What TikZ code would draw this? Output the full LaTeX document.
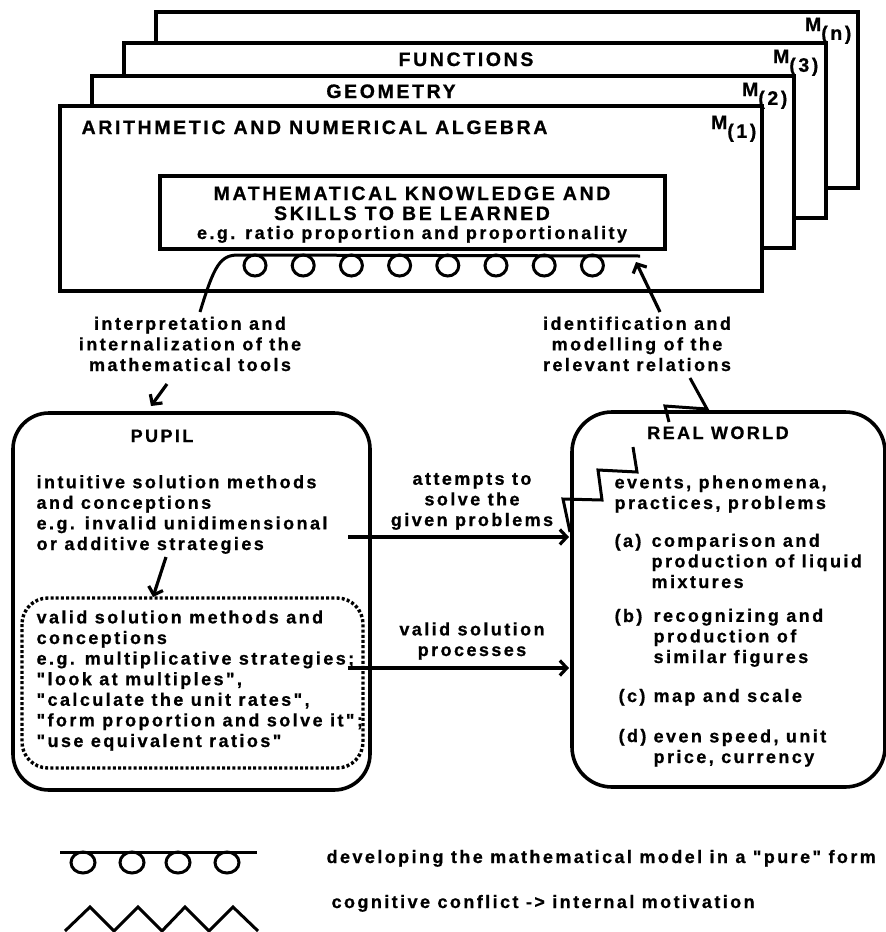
\documentclass[tikz,border=0pt]{standalone}
\usepackage{fontspec}
\newfontfamily\dgfont{Liberation Sans Bold}[LetterSpace=13.5, FakeBold=0.8]
\usetikzlibrary{arrows.meta,positioning}
\tikzset{
  every picture/.style={line width=3.2pt},
  sSheet/.style={draw, fill=white, line width=3.6pt},
  sInner/.style={draw, line width=3.4pt},
  sRound/.style={draw, line width=3.6pt, rounded corners=36pt},
  sDots/.style={draw, line width=3.4pt, rounded corners=26pt, dash pattern=on 3pt off 2.2pt},
  sArr/.style={-{Straight Barb[length=7pt,width=15pt]}, line width=3.2pt},
  sLine/.style={line width=3pt},
  sTxt/.style={font=\dgfont\fontsize{18}{20.6}\selectfont, inner sep=0pt, align=left},
  sBig/.style={sTxt, font=\dgfont\fontsize{19.5}{20}\selectfont},
  sCap/.style={sTxt, align=center},
  sMark/.style={sBig, anchor=base east},
}
\newcommand{\msub}[1]{M\raisebox{-0.45em}{(#1)}}

\begin{document}
\begin{tikzpicture}[x=1pt,y=-1pt]
  \useasboundingbox (0,0) rectangle (886,932);
  % topic sheets, back to front
  \draw[sSheet] (156,12) rectangle (858,188);
  \node[sMark] (mN) at (853,31) {\msub{n}};
  \draw[sSheet] (124,43) rectangle (826,218);
  \node[sMark] (m3) at (820,63) {\msub{3}};
  \node[sBig, anchor=base] (fun) at (466,66) {FUNCTIONS};
  \draw[sSheet] (92,76) rectangle (794,248);
  \node[sMark] (m2) at (789,96) {\msub{2}};
  \node[sBig, anchor=base] (geo) at (391,98) {GEOMETRY};
  \draw[sSheet] (60,106) rectangle (762,291);
  \node[sMark] (m1) at (758,129) {\msub{1}};
  \node[sBig, anchor=base west] (arith) at (80,134) {ARITHMETIC AND NUMERICAL ALGEBRA};
  \draw[sInner] (160,176) rectangle (665,249);
  \node[sBig, align=center, anchor=base] (know) at (412,220)
    {MATHEMATICAL KNOWLEDGE AND\\SKILLS TO BE LEARNED};
  \node[sTxt, anchor=base] (eg) at (412,239) {e.g. ratio proportion and proportionality};

  % coil: model in pure form
  \coordinate (cL) at (200,312);
  \coordinate (cR) at (640,256);
  \draw[sLine] (cL) .. controls (214,266) and (220,255) .. (238,255) -- (cR);
  \foreach \i in {0,...,7}
    \draw[sLine] ({255+48.2*\i},265.5) ellipse [x radius=11pt, y radius=10.5pt];
  \coordinate (idB) at (660,312);
  \coordinate (idT) at (636,262);
  \draw[sArr] (idB) -- (idT);

  % labels of the two links
  \node[sCap, anchor=base] (interp) at (190,371)
    {interpretation and\\internalization of the\\mathematical tools};
  \node[sCap, anchor=base] (ident) at (637,371)
    {identification and\\modelling of the\\relevant relations};

  % pupil
  \draw[sRound] (13,413) rectangle (370,790);
  \coordinate (pIn) at (167,384);
  \coordinate (pTop) at (151,406);
  \draw[sArr] (pIn) -- (pTop);
  \node[sTxt, anchor=base] (pupil) at (162,442) {PUPIL};
  \node[sTxt, anchor=base west] (intuit) at (35,550)
    {intuitive solution methods\\and conceptions\\e.g. invalid unidimensional\\or additive strategies};
  \coordinate (vA) at (166,557);
  \coordinate (vB) at (153,597);
  \draw[sArr] (vA) -- (vB);
  \draw[sDots] (22,598) rectangle (363,768);
  \node[sTxt, anchor=base west] (valid) at (35,747)
    {valid solution methods and\\conceptions\\e.g. multiplicative strategies;\\"look at multiples",\\"calculate the unit rates",\\"form proportion and solve it";\\"use equivalent ratios"};

  % real world
  \draw[sRound, rounded corners=40pt] (572,412) rectangle (885,787);
  \node[sTxt, anchor=base] (real) at (718,439) {REAL WORLD};
  \draw[sLine, line join=miter] (690,378) -- (707,409) -- (665,406) -- (669,422);
  \draw[sLine, line join=miter] (633,447) -- (637,472) -- (598,470) -- (602,500) -- (563,499) -- (570,532);
  \node[sTxt, anchor=base west] (events) at (613,509) {events, phenomena,\\practices, problems};
  \node[sTxt, anchor=base west] (la) at (613,547) {(a)};
  \node[sTxt, anchor=base west] (ta) at (650,588) {comparison and\\production of liquid\\mixtures};
  \node[sTxt, anchor=base west] (lb) at (613,622) {(b)};
  \node[sTxt, anchor=base west] (tb) at (652,663) {recognizing and\\production of\\similar figures};
  \node[sTxt, anchor=base west] (lc) at (617,702) {(c)};
  \node[sTxt, anchor=base west] (tc) at (652,702) {map and scale};
  \node[sTxt, anchor=base west] (ld) at (617,742) {(d)};
  \node[sTxt, anchor=base west] (td) at (652,763) {even speed, unit\\price, currency};

  % pupil to real world
  \coordinate (aS) at (348,537);
  \coordinate (aE) at (569,537);
  \draw[sArr] (aS) -- (aE);
  \node[sCap, anchor=base] (att) at (472,526) {attempts to\\solve the\\given problems};
  \coordinate (bS) at (348,668);
  \coordinate (bE) at (569,668);
  \draw[sArr] (bS) -- (bE);
  \node[sCap, anchor=base] (proc) at (472,656) {valid solution\\processes};

  % legend
  \draw[sLine] (60,852) -- (257,852);
  \foreach \x in {83,132,178,227}
    \draw[sLine] (\x,862.5) ellipse [x radius=12pt, y radius=10.5pt];
  \node[sTxt, anchor=base west] (legA) at (325,863) {developing the mathematical model in a "pure" form};
  \draw[sLine, line join=miter] (65,931) -- (90,907) -- (114,931) -- (138,907) -- (162,931)
    -- (185,907) -- (209,931) -- (233,907) -- (258,931);
  \node[sTxt, anchor=base west] (legB) at (330,908) {cognitive conflict -> internal motivation};
\end{tikzpicture}
\end{document}
